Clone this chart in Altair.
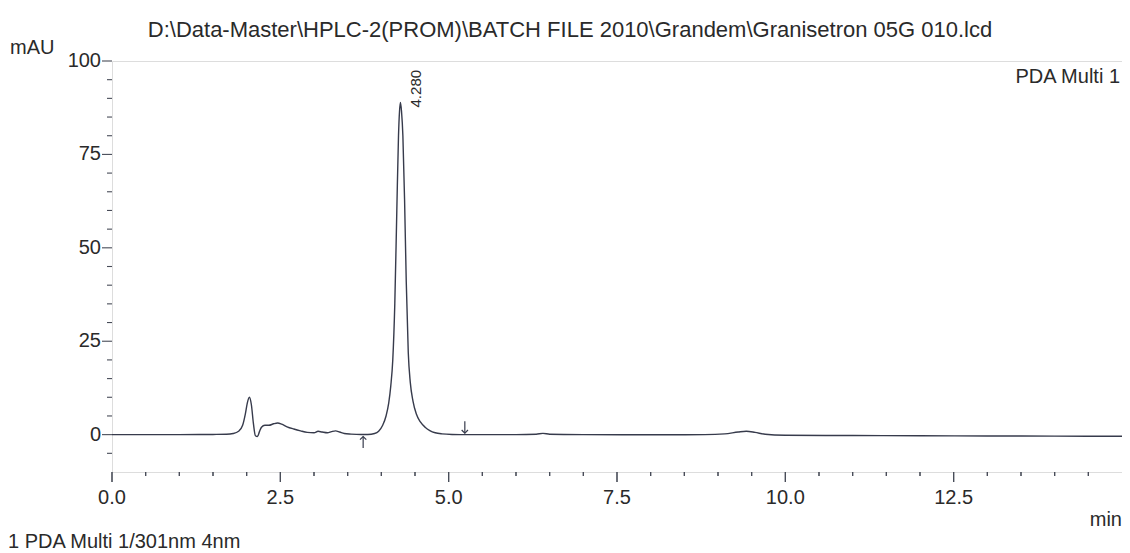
import altair as alt
import pandas as pd

# ---- data ----
time_min = [0.0, 0.5, 1.0, 1.5, 1.7, 1.8, 1.88, 1.94, 1.98, 2.01, 2.04, 2.07, 2.10, 2.13,
            2.16, 2.19, 2.22, 2.27, 2.33, 2.40, 2.46, 2.52, 2.60, 2.70, 2.80, 2.90, 3.00,
            3.06, 3.12, 3.20, 3.26, 3.32, 3.38, 3.45, 3.55, 3.70, 3.80, 3.90, 3.96, 4.02,
            4.07, 4.11, 4.14, 4.17, 4.20, 4.23, 4.255, 4.27, 4.284, 4.30, 4.32, 4.345,
            4.37, 4.40, 4.43, 4.47, 4.52, 4.58, 4.65, 4.72, 4.80, 4.90, 5.05, 5.30, 6.00,
            6.30, 6.40, 6.50, 7.00, 8.00, 8.80, 9.10, 9.30, 9.42, 9.55, 9.70, 10.00, 11.00,
            12.00, 13.00, 14.00, 15.00]
signal_mau = [0.0, 0.0, 0.0, 0.05, 0.1, 0.3, 0.9, 2.5, 5.5, 8.5, 10.0, 8.0, 3.0, -0.3,
              -0.5, 0.8, 2.0, 2.5, 2.5, 2.9, 3.1, 2.8, 2.1, 1.5, 1.0, 0.6, 0.5,
              0.9, 0.7, 0.5, 0.8, 1.0, 0.7, 0.3, 0.15, 0.05, 0.05, 0.3, 0.9, 2.5,
              5.0, 8.5, 13.0, 20.0, 35.0, 60.0, 80.0, 86.5, 88.9, 86.5, 80.0, 63.0,
              41.0, 22.0, 14.0, 9.0, 5.5, 3.4, 2.0, 1.1, 0.5, 0.2, 0.05, 0.0, 0.0,
              0.1, 0.35, 0.1, 0.0, -0.05, 0.0, 0.2, 0.7, 0.9, 0.6, 0.1, -0.15, -0.25,
              -0.3, -0.35, -0.4, -0.45]

peak_time = [4.284]
peak_height = [88.9]
peak_label = ["4.280"]

arrow_time = [3.73, 5.24]
arrow_from = [-0.5, 3.6]
arrow_to = [-3.6, 0.4]
arrow_tip = [-0.5, 0.4]
arrow_dir = ["up", "down"]

x_major = [0.0, 2.5, 5.0, 7.5, 10.0, 12.5]
x_minor = [0.5, 1.0, 1.5, 2.0, 3.0, 3.5, 4.0, 4.5, 5.5, 6.0, 6.5, 7.0, 8.0, 8.5, 9.0,
           9.5, 10.5, 11.0, 11.5, 12.0, 13.0, 13.5, 14.0, 14.5]
y_major = [0, 25, 50, 75, 100]
y_minor = [-5, 5, 10, 15, 20, 30, 35, 40, 45, 55, 60, 65, 70, 80, 85, 90, 95]

title_text = "D:\\Data-Master\\HPLC-2(PROM)\\BATCH FILE 2010\\Grandem\\Granisetron 05G 010.lcd"
y_unit = "mAU"
x_unit = "min"
channel_text = "PDA Multi 1"
footer_text = "1  PDA Multi 1/301nm 4nm"

# ---- styling ----
W, H = 1010, 411
Y_MIN = -10
LINE = "#373b4c"
AX = "#474b57"
TXT = "#2a2a2a"
FONT = "Liberation Sans"

xscale = alt.Scale(domain=[0, 15], nice=False, zero=False)
yscale = alt.Scale(domain=[Y_MIN, 100], nice=False, zero=False)

sig_df = pd.DataFrame({"t": time_min, "v": signal_mau})
arr_df = pd.DataFrame({"t": arrow_time, "y1": arrow_from, "y2": arrow_to,
                       "tip": arrow_tip, "dir": arrow_dir})
pk_df = pd.DataFrame({"t": peak_time, "v": peak_height, "label": peak_label})
xmaj_df = pd.DataFrame({"t": x_major})
xmin_df = pd.DataFrame({"t": x_minor})
xlab_df = pd.DataFrame({"tl": x_major})
ymaj_df = pd.DataFrame({"v": y_major})
ymin_df = pd.DataFrame({"v": y_minor})

signal = alt.Chart(sig_df).mark_line(color=LINE, strokeWidth=1.4, interpolate="monotone").encode(
    x=alt.X("t:Q", scale=xscale, axis=None),
    y=alt.Y("v:Q", scale=yscale, axis=None),
)

# x-axis ticks: rules anchored on the bottom of the y domain, hanging 10 / 4 px down
xt_major = alt.Chart(xmaj_df).mark_rule(color=AX, strokeWidth=1.1).encode(
    x=alt.X("t:Q", scale=xscale, axis=None),
    y=alt.Y(datum=Y_MIN, type="quantitative", scale=yscale, axis=None),
    y2=alt.value(H + 10))
xt_minor = alt.Chart(xmin_df).mark_rule(color=AX, strokeWidth=1.1).encode(
    x=alt.X("t:Q", scale=xscale, axis=None),
    y=alt.Y(datum=Y_MIN, type="quantitative", scale=yscale, axis=None),
    y2=alt.value(H + 4))
# same ticks again as tick marks (drawn on top of each other)
xk_major = alt.Chart(xmaj_df).mark_tick(color=AX, thickness=1.1, size=10, orient="vertical",
                                        opacity=1).encode(
    x=alt.X("t:Q", scale=xscale, axis=None), y=alt.value(H + 5))
xk_minor = alt.Chart(xmin_df).mark_tick(color=AX, thickness=1.1, size=4, orient="vertical",
                                        opacity=1).encode(
    x=alt.X("t:Q", scale=xscale, axis=None), y=alt.value(H + 2))

yt_major = alt.Chart(ymaj_df).mark_rule(color=AX, strokeWidth=1.1).encode(
    y=alt.Y("v:Q", scale=yscale, axis=None), x=alt.value(0), x2=alt.value(-10))
yt_minor = alt.Chart(ymin_df).mark_rule(color=AX, strokeWidth=1.1).encode(
    y=alt.Y("v:Q", scale=yscale, axis=None), x=alt.value(0), x2=alt.value(-5))
xt_labels = alt.Chart(xlab_df).mark_text(fontSize=20, font=FONT, color=TXT, baseline="middle",
                                         align="center").encode(
    x=alt.X("tl:Q", scale=xscale, axis=None), y=alt.value(H + 26),
    text=alt.Text("tl:Q", format=".1f"))
yt_labels = alt.Chart(ymaj_df).mark_text(fontSize=20, font=FONT, color=TXT, baseline="middle",
                                         align="right").encode(
    y=alt.Y("v:Q", scale=yscale, axis=None), x=alt.value(-11),
    text=alt.Text("v:Q", format="d"))

arrows = alt.Chart(arr_df).mark_rule(color=LINE, strokeWidth=1.2).encode(
    x=alt.X("t:Q", scale=xscale, axis=None),
    y=alt.Y("y1:Q", scale=yscale, axis=None),
    y2="y2:Q",
)

heads = alt.Chart(arr_df).mark_point(filled=False, color=LINE, strokeWidth=1.2, size=40, opacity=1).encode(
    x=alt.X("t:Q", scale=xscale, axis=None),
    y=alt.Y("tip:Q", scale=yscale, axis=None),
    shape=alt.Shape("dir:N", scale=alt.Scale(domain=["up", "down"],
                                             range=["M-1,1L0,0L1,1", "M-1,-1L0,0L1,-1"]),
                    legend=None),
)

peak = alt.Chart(pk_df).mark_text(angle=270, align="left", baseline="top", dx=-5, dy=9,
                                  fontSize=15, font=FONT, color=TXT).encode(
    x=alt.X("t:Q", scale=xscale, axis=None),
    y=alt.Y("v:Q", scale=yscale, axis=None),
    text="label:N",
)


def label(txt, x, y, size=20, align="left", baseline="middle"):
    return alt.Chart(pd.DataFrame({"s": [txt]})).mark_text(
        align=align, baseline=baseline, fontSize=size, font=FONT, color=TXT
    ).encode(text="s:N", x=alt.value(x), y=alt.value(y))


texts = [
    label(title_text, 458, -31, size=22, align="center"),
    label(y_unit, -102, -13, size=20),
    label(channel_text, W - 2, 22, size=20, align="right", baseline="alphabetic"),
    label(x_unit, W, H + 48, size=20, align="right"),
    label(footer_text, -104, H + 76, size=20, baseline="alphabetic"),
]

chart = alt.layer(signal, xt_major, xt_minor, xk_major, xk_minor, yt_major, yt_minor,
                  xt_labels, yt_labels, arrows, heads, peak, *texts).properties(
    width=W, height=H,
    autosize=alt.AutoSizeParams(type="none"),
    padding={"left": 104, "top": 53, "right": 0, "bottom": 80},
).configure_view(
    stroke=AX, strokeWidth=1.2
).configure(background="white")

chart.save("out.html", embed_options={"renderer": "svg", "actions": False})
